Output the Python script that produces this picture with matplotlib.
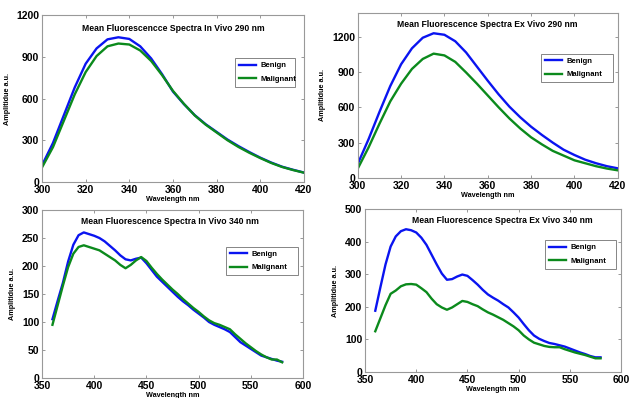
import matplotlib
matplotlib.use("Agg")
import matplotlib.pyplot as plt

plt.rcParams["font.family"] = ["Liberation Sans", "DejaVu Sans"]
plt.rcParams["font.weight"] = "bold"

# ---- data ----
wl_290 = list(range(300, 421, 5))
wl_340 = list(range(360, 581, 5))

invivo290_benign = [120, 280, 480, 680, 850, 960, 1025, 1040, 1028, 975, 888, 775, 650,
                    560, 480, 415, 360, 305, 258, 215, 175, 140, 110, 88, 68]
invivo290_malig = [105, 250, 440, 630, 790, 905, 975, 995, 988, 945, 870, 768, 655,
                   562, 478, 412, 356, 300, 252, 210, 172, 137, 108, 86, 67]

exvivo290_benign = [120, 330, 560, 780, 965, 1100, 1190, 1228, 1215, 1160, 1065, 945, 825,
                    710, 605, 515, 435, 365, 300, 240, 195, 155, 125, 100, 82]
exvivo290_malig = [80, 260, 460, 650, 800, 925, 1010, 1055, 1040, 985, 895, 800, 700,
                   600, 505, 420, 345, 285, 230, 190, 150, 125, 100, 80, 65]

invivo340_benign = [105, 138, 170, 208, 238, 255, 260, 257, 254, 250, 244, 236, 228, 219,
                    212, 210, 213, 215, 205, 193, 181, 172, 163, 154, 145, 137, 130, 122,
                    115, 108, 100, 95, 91, 87, 82, 73, 64, 58, 52, 46, 40, 37, 34, 31, 29]
invivo340_malig = [95, 130, 165, 198, 222, 234, 237, 234, 231, 228, 222, 216, 210, 202,
                   196, 202, 210, 216, 209, 197, 186, 176, 167, 158, 150, 141, 133, 125,
                   118, 110, 103, 98, 95, 91, 87, 78, 70, 62, 55, 48, 42, 37, 33, 33, 28]

exvivo340_benign = [188, 260, 330, 385, 416, 432, 438, 435, 428, 412, 390, 360, 330, 302,
                    283, 285, 293, 299, 295, 282, 268, 252, 238, 228, 219, 208, 198, 183,
                    167, 147, 128, 112, 102, 95, 89, 86, 82, 78, 72, 66, 60, 55, 49, 45, 45]
exvivo340_malig = [125, 165, 205, 240, 250, 263, 269, 270, 268, 257, 245, 225, 208, 198,
                   191, 198, 208, 218, 215, 208, 202, 192, 183, 176, 168, 160, 150, 140,
                   128, 112, 100, 90, 85, 80, 77, 76, 76, 70, 65, 60, 56, 52, 47, 42, 42]

titles = ["Mean Fluorescencce Spectra In Vivo 290 nm",
          "Mean Fluorescence Spectra Ex Vivo 290 nm",
          "Mean Fluorescence Spectra In Vivo 340 nm",
          "Mean Fluorescence Spectra Ex Vivo 340 nm"]

BLUE = "#0a14f0"
GREEN = "#0b8a1c"

fig = plt.figure(figsize=(6.31, 3.98), dpi=100)

panels = [
    # rect, x, benign, malignant, xlim, ylim, yticks, xticks, title pos, legend box
    ([0.0666, 0.5427, 0.415, 0.4196], wl_290, invivo290_benign, invivo290_malig,
     (300, 420), (0, 1200), [0, 300, 600, 900, 1200], range(300, 421, 20),
     (0.50, 0.92), (0.737, 0.569, 0.229, 0.174)),
    ([0.567, 0.5528, 0.412, 0.4146], wl_290, exvivo290_benign, exvivo290_malig,
     (300, 420), (0, 1400), [0, 300, 600, 900, 1200], range(300, 421, 20),
     (0.497, 0.933), (0.704, 0.576, 0.276, 0.182)),
    ([0.0666, 0.0503, 0.4136, 0.422], wl_340, invivo340_benign, invivo340_malig,
     (350, 600), (0, 300), [0, 50, 100, 150, 200, 250, 300], range(350, 601, 50),
     (0.49, 0.93), (0.705, 0.613, 0.275, 0.167)),
    ([0.5785, 0.0653, 0.4057, 0.4095], wl_340, exvivo340_benign, exvivo340_malig,
     (350, 600), (0, 500), [0, 100, 200, 300, 400, 500], range(350, 601, 50),
     (0.535, 0.93), (0.703, 0.632, 0.277, 0.178)),
]

for i, (rect, x, ben, mal, xl, yl, yt, xt, tpos, lbox) in enumerate(panels):
    ax = fig.add_axes(rect)
    ax.plot(x, ben, color=BLUE, lw=1.7, label="Benign", solid_joinstyle="round")
    ax.plot(x, mal, color=GREEN, lw=1.7, label="Malignant", solid_joinstyle="round")
    ax.set_xlim(*xl)
    ax.set_ylim(*yl)
    ax.set_xticks(list(xt))
    ax.set_yticks(yt)
    ax.tick_params(direction="in", length=2.5, width=0.6, color="#888888",
                   labelsize=7.5, pad=2, top=True, right=True)
    for lab in ax.get_xticklabels() + ax.get_yticklabels():
        lab.set_fontweight("bold")
    for s in ax.spines.values():
        s.set_color("#999999")
        s.set_linewidth(0.8)
    ax.text(tpos[0], tpos[1], titles[i], transform=ax.transAxes, ha="center",
            va="center", fontsize=6.2, fontweight="bold")
    ax.set_xlabel("Wavelength nm", fontsize=5.2, fontweight="bold", labelpad=1)
    ax.set_ylabel("Amplitidue a.u.", fontsize=5.2, fontweight="bold", labelpad=4)
    leg = ax.legend(loc="center", bbox_to_anchor=lbox, mode="expand",
                    fancybox=False, fontsize=5.5, handlelength=2.3, borderpad=0.5,
                    labelspacing=0.8, handletextpad=0.6, borderaxespad=0)
    leg.get_frame().set_edgecolor("#666666")
    leg.get_frame().set_linewidth(0.7)
    for t in leg.get_texts():
        t.set_fontweight("bold")

fig.savefig("out.png", dpi=100)
